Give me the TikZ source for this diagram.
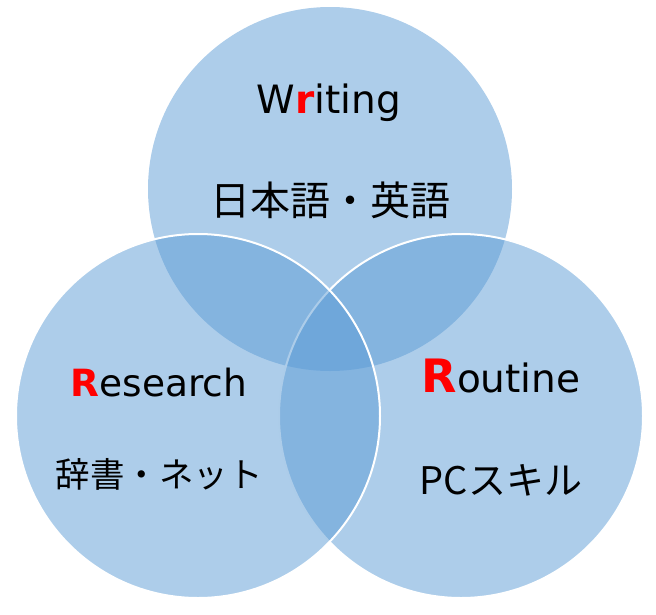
\documentclass[tikz,border=0pt]{standalone}
\usepackage{fontspec}
\setmainfont{DejaVu Sans}
\newfontfamily\jpfont{Noto Sans CJK JP}
\definecolor{vennblue}{HTML}{5B9BD5}
\begin{document}
\begin{tikzpicture}[x=1pt, y=-1pt,
		set/.style={circle, minimum size=364pt, inner sep=0pt, fill=vennblue, fill opacity=0.5},
		rim/.style={set, draw=white, line width=2pt},
		head/.style={anchor=base, inner sep=0pt, font=\fontsize{39}{39}\selectfont},
		jp/.style={anchor=base, inner sep=0pt, font=\jpfont\fontsize{40}{40}\selectfont}
		]
	\useasboundingbox (0,0) rectangle (656,614);
	% the three sets
	\node [set] (w) at (330,189) {};
	\node [rim] (ro) at (461,416) {};
	\node [rim] (re) at (198,416) {};
	% labels
	\node [head] (wt) at (329,113) {W\textcolor{red}{\bfseries r}iting};
	\node [jp] (wj) at (330,215) {日本語・英語};
	\node [head, font=\fontsize{37.5}{37.5}\selectfont] (ret) at (159,396) {\textcolor{red}{\bfseries R}esearch};
	\node [jp, font=\jpfont\fontsize{34.5}{34.5}\selectfont] (rej) at (159,487) {辞書・ネット};
	\node [head] (rot) at (501,392) {\textcolor{red}{\bfseries\fontsize{46}{46}\selectfont R}outine};
	\node [jp, font=\jpfont\fontsize{38}{38}\selectfont] (roj) at (501,494) {PCスキル};
\end{tikzpicture}
\end{document}
